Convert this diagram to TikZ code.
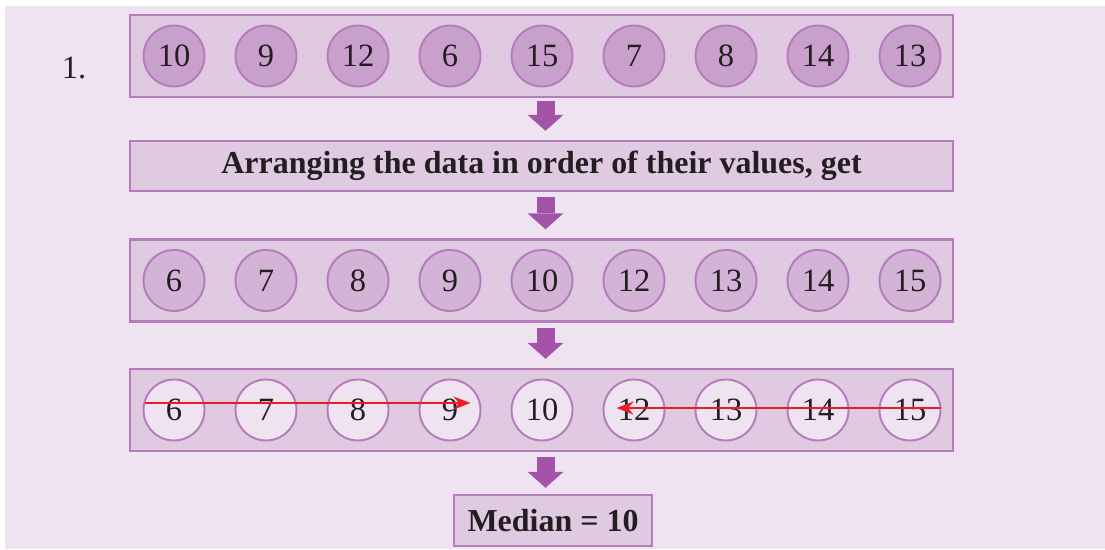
\documentclass[tikz,border=0pt]{standalone}
\usepackage{fontspec}
\setmainfont{Liberation Serif}
\usetikzlibrary{arrows.meta}

\definecolor{bglav}{RGB}{239,227,241}
\definecolor{boxfill}{RGB}{223,202,226}
\definecolor{boxline}{RGB}{180,124,186}
\definecolor{ballA}{RGB}{200,160,203}
\definecolor{ballB}{RGB}{212,180,214}
\definecolor{arrowpurple}{RGB}{163,83,168}
\definecolor{strikered}{RGB}{237,28,36}
\definecolor{ink}{RGB}{35,31,32}

\begin{document}
\begin{tikzpicture}[x=0.02cm, y=-0.02cm,
    rowbox/.style={draw=boxline, line width=1.4pt, fill=boxfill, minimum width=16.46cm,
      minimum height=1.64cm, inner sep=0pt, text=ink, font=\bfseries\fontsize{18.2}{21}\selectfont},
    ball/.style={circle, draw=boxline, line width=1.1pt, minimum size=1.22cm, inner sep=0pt,
      text=ink, font=\fontsize{18.5}{21}\selectfont},
    fatarrow/.style={draw=arrowpurple, line width=0.36cm,
      -{Triangle[length=0.32cm, width=0.72cm, line width=0pt]}},
    strike/.style={draw=strikered, line width=1.2pt, -{Stealth[length=0.34cm, width=0.26cm]}}]
    % Background
    \useasboundingbox (0,0) rectangle (1105,549);
    \fill[white] (0,0) rectangle (1105,549);
    \fill[bglav] (5,6) rectangle (1105,549);

    % Rows
    \node[text=ink, font=\fontsize{18.5}{21}\selectfont] (num) at (74,68) {1.};
    \node[rowbox] (row1) at (541.5,56) {};
    \node[rowbox, minimum height=1.0cm] (row2) at (541.5,166) {Arranging the data in order of their values, get};
    \node[rowbox] (row3) at (541.5,280.5) {};
    \node[rowbox] (row4) at (541.5,410) {};
    \node[rowbox, minimum width=3.96cm, minimum height=1.02cm] (median) at (553,520.5) {Median = 10};

    % Data
    \foreach \v [count=\i] in {10,9,12,6,15,7,8,14,13}
      \node[ball, fill=ballA] (a\i) at ({174+92*(\i-1)},56) {\v};
    \foreach \v [count=\i] in {6,7,8,9,10,12,13,14,15}
      \node[ball, fill=ballB] (b\i) at ({174+92*(\i-1)},280.5) {\v};
    \foreach \v [count=\i] in {6,7,8,9,10,12,13,14,15}
      \node[ball, fill=bglav] (c\i) at ({174+92*(\i-1)},410) {\v};

    % Steps
    \draw[fatarrow, shorten <=0.06cm, shorten >=0.18cm] ([xshift=0.08cm]row1.south) -- ([xshift=0.08cm]row2.north);
    \draw[fatarrow, shorten <=0.1cm, shorten >=0.18cm] ([xshift=0.08cm]row2.south) -- ([xshift=0.08cm]row3.north);
    \draw[fatarrow, shorten <=0.1cm, shorten >=0.18cm] ([xshift=0.08cm]row3.south) -- ([xshift=0.08cm]row4.north);
    \draw[fatarrow, shorten <=0.1cm, shorten >=0.12cm] ([xshift=0.08cm]row4.south) -- ([xshift=0.08cm]row4.south |- median.north);

    % Crossing out
    \draw[strike] ([xshift=0.04cm, yshift=0.14cm]c1.west) -- ([xshift=-0.22cm, yshift=0.14cm]c4.east);
    \draw[strike] ([yshift=0.04cm]c9.east) -- ([xshift=0.28cm, yshift=0.04cm]c6.west);
\end{tikzpicture}
\end{document}
